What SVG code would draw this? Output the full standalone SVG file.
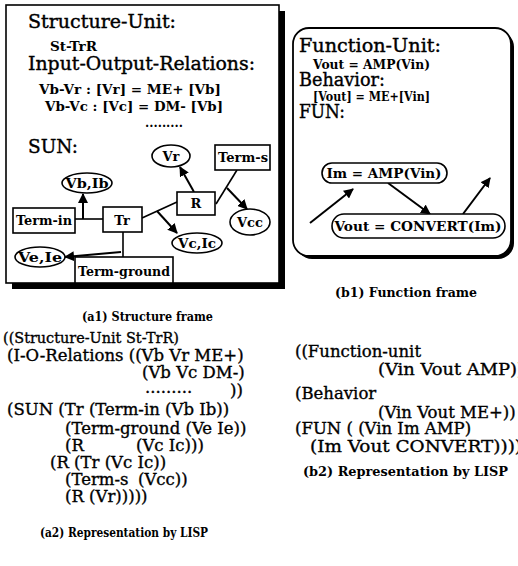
<svg xmlns="http://www.w3.org/2000/svg" width="518" height="566" viewBox="0 0 518 566" font-family="DejaVu Serif">
<style>
text{font-family:"DejaVu Serif","Liberation Serif",serif;fill:#000}
.h{font-size:19px;stroke:#000;stroke-width:0.4}
.s{font-size:12.5px;font-weight:bold}
.n{font-size:13px;font-weight:bold;text-anchor:middle}
.l{font-size:16.5px;stroke:#000;stroke-width:0.35}
.c{font-size:12.5px;font-weight:bold}
.box{fill:#fff;stroke:#000;stroke-width:1.6}
.ln{fill:none;stroke:#000;stroke-width:1.6}
.ar{fill:none;stroke:#000;stroke-width:2;marker-end:url(#ah)}
</style>
<defs>
<marker id="ah" viewBox="0 0 10 10" refX="9" refY="5" markerWidth="5" markerHeight="5" orient="auto" markerUnits="strokeWidth">
<path d="M0,0 L10,5 L0,10 z" fill="#000"/>
</marker>
</defs>

<!-- Structure frame -->
<g id="structure-frame">
<rect x="12" y="11" width="273" height="278" fill="#000"/>
<rect x="6" y="5" width="273" height="278" fill="#fff" stroke="#000" stroke-width="1.6"/>
<text class="h" x="28" y="28" textLength="148" lengthAdjust="spacingAndGlyphs">Structure-Unit:</text>
<text class="s" x="50" y="51" textLength="47" lengthAdjust="spacingAndGlyphs">St-TrR</text>
<text class="h" x="28" y="70" textLength="227" lengthAdjust="spacingAndGlyphs">Input-Output-Relations:</text>
<text class="s" x="39" y="94" textLength="182" lengthAdjust="spacingAndGlyphs">Vb-Vr : [Vr] = ME+ [Vb]</text>
<text class="s" x="45" y="111" textLength="178" lengthAdjust="spacingAndGlyphs">Vb-Vc : [Vc] = DM- [Vb]</text>
<text class="s" x="145" y="127" textLength="38" lengthAdjust="spacingAndGlyphs">.........</text>
<text class="h" x="28" y="153" textLength="50" lengthAdjust="spacingAndGlyphs">SUN:</text>
</g>

<!-- Connectors of structure -->
<g id="connectors-structure">
<line class="ln" x1="75" y1="219" x2="103" y2="219"/>
<line class="ar" x1="83" y1="219" x2="83" y2="194"/>
<line class="ln" x1="123" y1="232" x2="123" y2="257"/>
<line class="ar" x1="121" y1="252" x2="65" y2="257"/>
<line class="ln" x1="142" y1="218" x2="177" y2="202" stroke-width="2.2"/>
<line class="ar" x1="157" y1="211" x2="177" y2="233"/>
<line class="ar" x1="194" y1="192" x2="180" y2="167"/>
<line class="ln" x1="216" y1="204" x2="237" y2="170"/>
<line class="ar" x1="227" y1="188" x2="247" y2="209"/>
</g>

<g id="node-vbib"><ellipse class="box" cx="87" cy="183" rx="25" ry="10"/><text class="n" x="87" y="188" textLength="43" lengthAdjust="spacingAndGlyphs">Vb,Ib</text></g>
<g id="node-term-in"><rect class="box" x="13" y="208" width="62" height="25"/><text class="n" x="44" y="225" textLength="56" lengthAdjust="spacingAndGlyphs">Term-in</text></g>
<g id="node-tr"><rect class="box" x="103" y="207" width="39" height="25"/><text class="n" x="122" y="225">Tr</text></g>
<g id="node-veie"><ellipse class="box" cx="40" cy="257" rx="25" ry="10"/><text class="n" x="40" y="262" textLength="44" lengthAdjust="spacingAndGlyphs">Ve,Ie</text></g>
<g id="node-term-ground"><rect class="box" x="75" y="257" width="98" height="26"/><text class="n" x="124" y="276" textLength="92" lengthAdjust="spacingAndGlyphs">Term-ground</text></g>
<g id="node-r"><rect class="box" x="177" y="192" width="38" height="23"/><text class="n" x="196" y="208">R</text></g>
<g id="node-vcic"><ellipse class="box" cx="197" cy="243" rx="25" ry="10"/><text class="n" x="197" y="248" textLength="38" lengthAdjust="spacingAndGlyphs">Vc,Ic</text></g>
<g id="node-vr"><ellipse class="box" cx="171" cy="156" rx="19" ry="11"/><text class="n" x="171" y="161">Vr</text></g>
<g id="node-term-s"><rect class="box" x="215" y="145" width="55" height="25"/><text class="n" x="243" y="162" textLength="50" lengthAdjust="spacingAndGlyphs">Term-s</text></g>
<g id="node-vcc"><ellipse class="box" cx="250" cy="222" rx="20" ry="13"/><text class="n" x="250" y="227">Vcc</text></g>

<!-- Function frame -->
<g id="function-frame">
<rect x="296" y="31" width="218" height="228" rx="16" fill="#000"/>
<rect x="293" y="28" width="218" height="228" rx="16" fill="#fff" stroke="#000" stroke-width="1.8"/>
<text class="h" x="299" y="52" textLength="142" lengthAdjust="spacingAndGlyphs">Function-Unit:</text>
<text class="s" x="313" y="69" textLength="117" lengthAdjust="spacingAndGlyphs">Vout = AMP(Vin)</text>
<text class="h" x="299" y="86" textLength="86" lengthAdjust="spacingAndGlyphs">Behavior:</text>
<text class="s" x="313" y="101" textLength="117" lengthAdjust="spacingAndGlyphs">[Vout] = ME+[Vin]</text>
<text class="h" x="299" y="118" textLength="46" lengthAdjust="spacingAndGlyphs">FUN:</text>
</g>

<g id="connectors-function">
<line class="ar" x1="310" y1="223" x2="353" y2="189"/>
<line class="ar" x1="388" y1="183" x2="430" y2="214"/>
<line class="ar" x1="463" y1="214" x2="490" y2="178"/>
</g>

<g id="node-im"><rect class="box" x="322" y="163" width="125" height="20" rx="10"/><text class="n" x="384" y="178" textLength="115" lengthAdjust="spacingAndGlyphs">Im = AMP(Vin)</text></g>
<g id="node-vout"><rect class="box" x="332" y="214" width="173" height="24" rx="12"/><text class="n" x="418" y="231" textLength="167" lengthAdjust="spacingAndGlyphs">Vout = CONVERT(Im)</text></g>

<!-- Captions -->
<text class="c" x="82" y="321" textLength="131" lengthAdjust="spacingAndGlyphs">(a1) Structure frame</text>
<text class="c" x="335" y="297" textLength="142" lengthAdjust="spacingAndGlyphs">(b1) Function frame</text>

<!-- LISP a2 -->
<g id="lisp-structure">
<text class="l" x="3" y="343" style="font-size:15.5px" textLength="176" lengthAdjust="spacingAndGlyphs">((Structure-Unit  St-TrR)</text>
<text class="l" x="7" y="361">(I-O-Relations ((Vb Vr ME+)</text>
<text class="l" x="142" y="378">(Vb Vc DM-)</text>
<text class="l" x="145" y="393">.........</text>
<text class="l" x="230" y="396">))</text>
<text class="l" x="7" y="415">(SUN (Tr (Term-in  (Vb Ib))</text>
<text class="l" x="65" y="434">(Term-ground  (Ve Ie))</text>
<text class="l" x="65" y="451">(R</text>
<text class="l" x="136" y="451">(Vc Ic)))</text>
<text class="l" x="50" y="468">(R  (Tr (Vc Ic))</text>
<text class="l" x="65" y="485">(Term-s</text>
<text class="l" x="138" y="485">(Vcc))</text>
<text class="l" x="65" y="502">(R  (Vr)))))</text>
<text class="c" x="40" y="537" textLength="168" lengthAdjust="spacingAndGlyphs">(a2) Representation by LISP</text>
</g>

<!-- LISP b2 -->
<g id="lisp-function">
<text class="l" x="295" y="357">((Function-unit</text>
<text class="l" x="378" y="375" textLength="146" lengthAdjust="spacingAndGlyphs">(Vin Vout AMP))</text>
<text class="l" x="295" y="399">(Behavior</text>
<text class="l" x="378" y="418">(Vin Vout  ME+))</text>
<text class="l" x="295" y="434">(FUN ( (Vin Im AMP)</text>
<text class="l" x="310" y="452" textLength="212" lengthAdjust="spacingAndGlyphs">(Im Vout CONVERT))))</text>
<text class="c" x="303" y="476" textLength="205" lengthAdjust="spacingAndGlyphs">(b2) Representation by LISP</text>
</g>
</svg>
